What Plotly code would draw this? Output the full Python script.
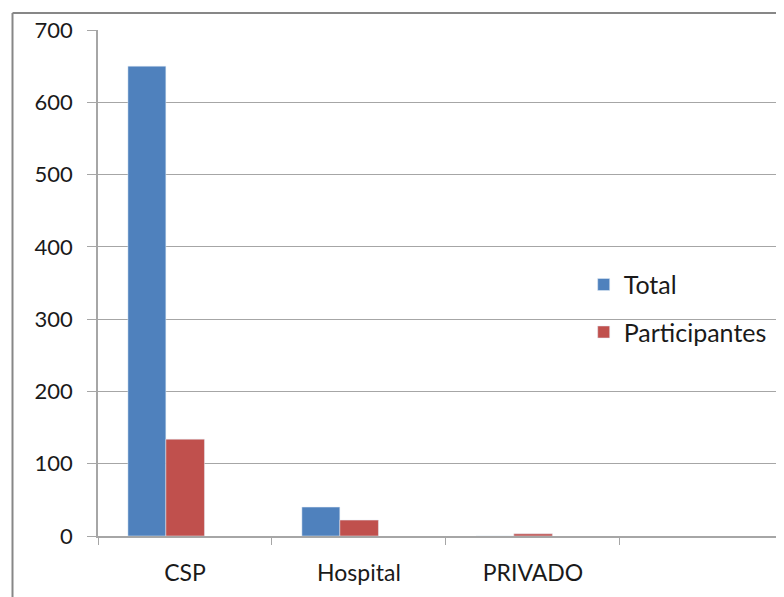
import plotly.graph_objects as go

categories = ["CSP", "Hospital", "PRIVADO"]
total = [650, 40, 0]
participantes = [134, 22, 3]
y_ticks = [0, 100, 200, 300, 400, 500, 600, 700]

FONT = "Lato"
GRAY = "#a6a6a6"

fig = go.Figure()
fig.add_trace(go.Bar(x=categories, y=total, name="Total", marker_color="#4F81BD",
                     width=0.218, offset=-0.328, legendgroup="a"))
fig.add_trace(go.Bar(x=categories, y=participantes, name="Participantes", marker_color="#C0504D",
                     width=0.222, offset=-0.110, legendgroup="b"))

fig.update_layout(
    width=776, height=589,
    margin=dict(l=90, r=0, t=22, b=61),
    paper_bgcolor="white", plot_bgcolor="white",
    font=dict(family=FONT, size=24, color="#1a1a1a"),
    showlegend=True,
    legend=dict(x=0.708, y=0.542, xanchor="left", yanchor="top",
                font=dict(family=FONT, size=25, color="#1a1a1a"),
                tracegroupgap=12, bgcolor="rgba(0,0,0,0)"),
    xaxis=dict(type="category", range=[-0.5, 3.443], showline=True, linecolor=GRAY, linewidth=1.5,
               ticks="outside", tickson="boundaries", ticklen=7, tickcolor=GRAY,
               showgrid=False, tickfont=dict(size=23), ticklabelstandoff=16),
    yaxis=dict(range=[0, 700], tickvals=y_ticks, showline=True, linecolor=GRAY, linewidth=1.5,
               ticks="outside", ticklen=9, tickcolor=GRAY, showgrid=True, gridcolor=GRAY,
               gridwidth=1.2, zeroline=False, tickfont=dict(size=22), ticklabelstandoff=10),
    shapes=[
        dict(type="line", xref="paper", yref="paper", x0=(4.5-90)/686, x1=1.05,
             y0=1+(22-5)/506, y1=1+(22-5)/506, line=dict(color="#878787", width=2)),
        dict(type="line", xref="paper", yref="paper", x0=(4.5-90)/686, x1=(4.5-90)/686,
             y0=1+(22-5)/506, y1=-0.2, line=dict(color="#878787", width=2)),
    ],
)

fig.write_html("out.html")
